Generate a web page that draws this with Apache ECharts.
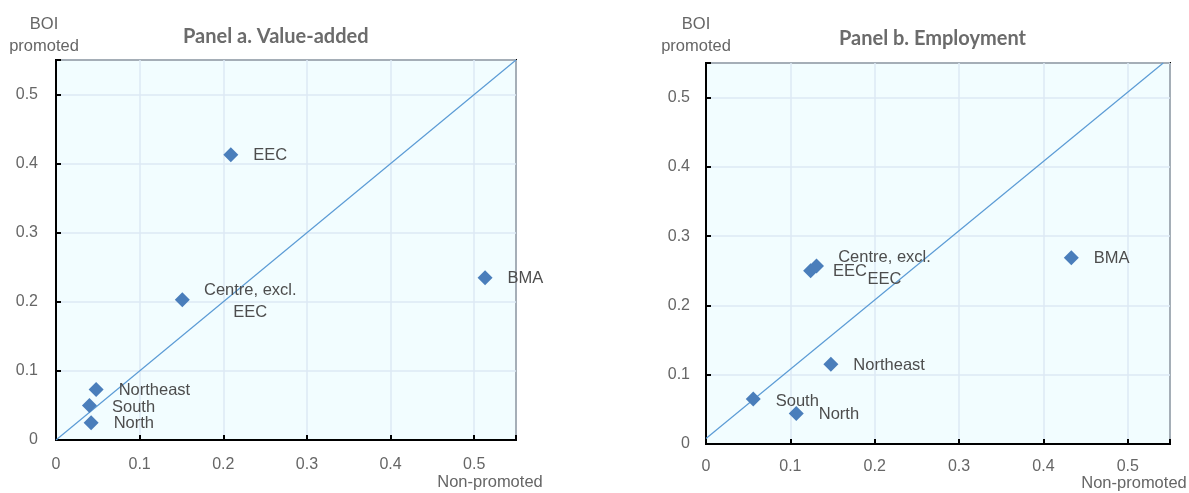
<!DOCTYPE html>
<html>
<head>
<meta charset="utf-8">
<script src="https://cdn.jsdelivr.net/npm/echarts@6/dist/echarts.min.js"></script>
<style>
html,body{margin:0;padding:0;background:#fff;}
#chart{width:1189px;height:493px;}
</style>
</head>
<body>
<div id="chart"></div>
<script>
// ---- data ----
const regionsA = ['EEC', 'Centre, excl.\nEEC', 'BMA', 'Northeast', 'South', 'North'];
const nonPromotedA = [0.209, 0.151, 0.513, 0.048, 0.040, 0.042];
const promotedA = [0.413, 0.203, 0.235, 0.073, 0.050, 0.025];

const regionsB = ['EEC', 'Centre, excl.\nEEC', 'BMA', 'Northeast', 'South', 'North'];
const nonPromotedB = [0.124, 0.131, 0.433, 0.148, 0.056, 0.107];
const promotedB = [0.250, 0.257, 0.269, 0.115, 0.065, 0.044];

const diagA = [[0, 0], [0.55, 0.55]];
const diagB = [[0, 0.008], [0.542, 0.55]];

const axisTicks = [0, 0.1, 0.2, 0.3, 0.4, 0.5];
const titles = ['Panel a. Value-added', 'Panel b. Employment'];
const yName = 'BOI\npromoted';
const xName = 'Non-promoted';

// ---- styles ----
const SANS = '"Liberation Sans", Arial, sans-serif';
const markerColor = '#4a7ebb';
const lineColor = '#5b9bd5';
const labelColor = '#4d4d4d';
const tickColor = '#666666';

function labelFor(name) {
  if (name.indexOf('Centre') === 0) {
    return { show: true, position: 'inside', offset: [68, 2], align: 'center', verticalAlign: 'middle', lineHeight: 22 };
  }
  if (name === 'South') return { show: true, position: 'right', distance: 15, offset: [0, 2] };
  return { show: true, position: 'right', distance: 15, offset: [0, 1] };
}

function points(names, xs, ys) {
  return names.map((n, i) => ({ name: n, value: [xs[i], ys[i]], label: labelFor(n) }));
}

const grids = [
  { left: 56, top: 60, width: 460, height: 380 },
  { left: 706, top: 63, width: 464, height: 381 }
];

const fmt = v => (axisTicks.some(t => Math.abs(t - v) < 1e-9) ? String(+v.toFixed(1)) : '');

function xAxis(idx) {
  return {
    type: 'value', gridIndex: idx, min: 0, max: 0.55, interval: 0.1,
    axisLine: { show: true, lineStyle: { color: '#000', width: 2 } },
    axisTick: { show: true, inside: true, length: 5, lineStyle: { color: '#000', width: 2 } },
    axisLabel: { color: tickColor, fontFamily: SANS, fontSize: 16, margin: idx === 0 ? 17 : 15, formatter: fmt },
    splitLine: { show: true, lineStyle: { color: '#dce8f5', width: 1.5 } }
  };
}
function yAxis(idx) {
  return {
    type: 'value', gridIndex: idx, min: 0, max: 0.55, interval: 0.1,
    axisLine: { show: true, lineStyle: { color: '#000', width: 2 } },
    axisTick: { show: true, inside: true, length: 5, lineStyle: { color: '#000', width: 2 } },
    axisLabel: { color: tickColor, fontFamily: SANS, fontSize: 16, margin: idx === 0 ? 18 : 16, formatter: fmt },
    splitLine: { show: true, lineStyle: { color: '#dce8f5', width: 1.5 } }
  };
}

const titleStyle = { fontFamily: 'Lato, "Open Sans", sans-serif', fontWeight: 'bold', fontSize: 20, color: '#6b6b6b' };

const chart = echarts.init(document.getElementById('chart'), null, { renderer: 'canvas' });
chart.setOption({
  animation: false,
  backgroundColor: '#ffffff',
  title: [
    { text: titles[0], left: 178, top: 22, textStyle: titleStyle },
    { text: titles[1], left: 834, top: 24, textStyle: titleStyle }
  ],
  grid: grids.map(g => Object.assign({ show: true, backgroundColor: '#f2fdff', borderColor: '#000', borderWidth: 2 }, g)),
  xAxis: [xAxis(0), xAxis(1)],
  yAxis: [yAxis(0), yAxis(1)],
  graphic: [
    { type: 'text', x: 44, y: 35, style: { text: yName, fill: tickColor, font: '16.5px ' + SANS, textAlign: 'center', textVerticalAlign: 'middle', lineHeight: 22 } },
    { type: 'text', x: 696, y: 35, style: { text: yName, fill: tickColor, font: '16.5px ' + SANS, textAlign: 'center', textVerticalAlign: 'middle', lineHeight: 22 } },
    { type: 'text', x: 490, y: 482, style: { text: xName, fill: tickColor, font: '16.5px ' + SANS, textAlign: 'center', textVerticalAlign: 'middle' } },
    { type: 'text', x: 1134, y: 483, style: { text: xName, fill: tickColor, font: '16.5px ' + SANS, textAlign: 'center', textVerticalAlign: 'middle' } }
  ],
  series: [
    { type: 'line', xAxisIndex: 0, yAxisIndex: 0, data: diagA, showSymbol: false, symbol: 'none', lineStyle: { color: lineColor, width: 1.2 }, z: 2 },
    { type: 'line', xAxisIndex: 1, yAxisIndex: 1, data: diagB, showSymbol: false, symbol: 'none', lineStyle: { color: lineColor, width: 1.2 }, z: 2 },
    { type: 'scatter', xAxisIndex: 0, yAxisIndex: 0, symbol: 'diamond', symbolSize: 15,
      itemStyle: { color: markerColor, opacity: 1 },
      label: { color: labelColor, fontFamily: SANS, fontSize: 16.5, formatter: p => p.name },
      data: points(regionsA, nonPromotedA, promotedA), z: 3 },
    { type: 'scatter', xAxisIndex: 1, yAxisIndex: 1, symbol: 'diamond', symbolSize: 15,
      itemStyle: { color: markerColor, opacity: 1 },
      label: { color: labelColor, fontFamily: SANS, fontSize: 16.5, formatter: p => p.name },
      data: points(regionsB, nonPromotedB, promotedB), z: 3 }
  ]
});
</script>
</body>
</html>
